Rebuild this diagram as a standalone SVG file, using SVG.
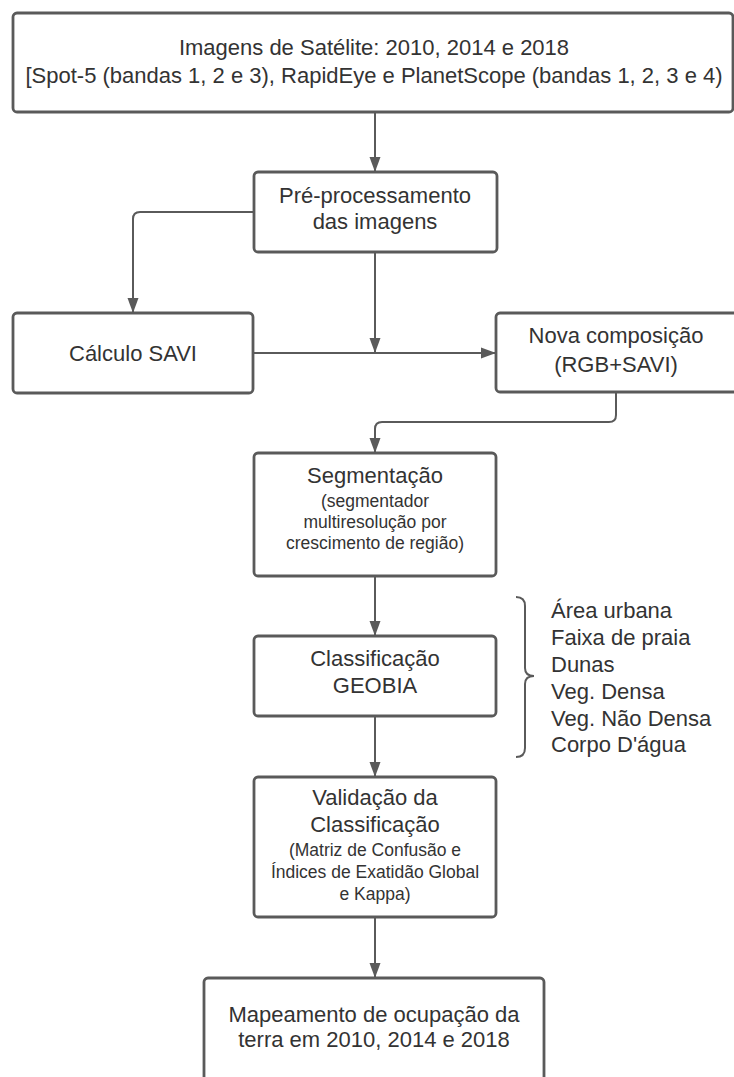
<svg xmlns="http://www.w3.org/2000/svg" width="734" height="1077" viewBox="0 0 734 1077">
<style>
.box{fill:#ffffff;stroke:#5a5a5a;stroke-width:2.8}
.t{font-family:"Liberation Sans",Arial,sans-serif;font-size:22px;fill:#333333;text-anchor:middle}
.s{font-family:"Liberation Sans",Arial,sans-serif;font-size:17.5px;fill:#333333;text-anchor:middle}
.l{font-family:"Liberation Sans",Arial,sans-serif;font-size:22px;fill:#333333}
.c{fill:none;stroke:#5a5a5a;stroke-width:2}
</style>
<defs>
<marker id="ah" viewBox="0 0 15 12" refX="14" refY="6" markerWidth="15" markerHeight="12" markerUnits="userSpaceOnUse" orient="auto">
<path d="M0,0.5 L15,6 L0,11.5 Z" fill="#5a5a5a"/>
</marker>
</defs>
<rect width="734" height="1077" fill="#ffffff"/>
<g id="connectors">
<path class="c" d="M375,112 L375,171" marker-end="url(#ah)"/>
<path class="c" d="M254,212 L140,212 Q133,212 133,219 L133,312" marker-end="url(#ah)"/>
<path class="c" d="M375,252 L375,352" marker-end="url(#ah)"/>
<path class="c" d="M253,353 L495,353" marker-end="url(#ah)"/>
<path class="c" d="M616,392 L616,415 Q616,422 609,422 L382,422 Q375,422 375,429 L375,452" marker-end="url(#ah)"/>
<path class="c" d="M375,576 L375,635" marker-end="url(#ah)"/>
<path class="c" d="M375,716 L375,776" marker-end="url(#ah)"/>
<path class="c" d="M375,917 L375,977" marker-end="url(#ah)"/>
<path class="c" d="M516,597 Q525,597 525,606 L525,668 Q525,676 534,676 Q525,676 525,684 L525,748 Q525,757 516,757"/>
</g>
<g id="n1">
<rect class="box" x="13" y="13" width="720" height="99" rx="4"/>
<text class="t" x="374" y="55">Imagens de Satélite: 2010, 2014 e 2018</text>
<text class="t" x="374" y="83">[Spot-5 (bandas 1, 2 e 3), RapidEye e PlanetScope (bandas 1, 2, 3 e 4)</text>
</g>
<g id="n2">
<rect class="box" x="254" y="172" width="243" height="80" rx="4"/>
<text class="t" x="375" y="203">Pré-processamento</text>
<text class="t" x="375" y="229">das imagens</text>
</g>
<g id="n3">
<rect class="box" x="13" y="313" width="240" height="80" rx="4"/>
<text class="t" x="133" y="361">Cálculo SAVI</text>
</g>
<g id="n4">
<rect class="box" x="496" y="313" width="245" height="79" rx="4"/>
<text class="t" x="616" y="343">Nova composição</text>
<text class="t" x="616" y="372">(RGB+SAVI)</text>
</g>
<g id="n5">
<rect class="box" x="254" y="453" width="242" height="123" rx="4"/>
<text class="t" x="375" y="483">Segmentação</text>
<text class="s" x="375" y="507">(segmentador</text>
<text class="s" x="375" y="528">multiresolução por</text>
<text class="s" x="375" y="549">crescimento de região)</text>
</g>
<g id="n6">
<rect class="box" x="254" y="636" width="242" height="80" rx="4"/>
<text class="t" x="375" y="666">Classificação</text>
<text class="t" x="375" y="693">GEOBIA</text>
</g>
<g id="classes">
<text class="l" x="551" y="618">Área urbana</text>
<text class="l" x="551" y="645">Faixa de praia</text>
<text class="l" x="551" y="672">Dunas</text>
<text class="l" x="551" y="699">Veg. Densa</text>
<text class="l" x="551" y="726">Veg. Não Densa</text>
<text class="l" x="551" y="752">Corpo D'água</text>
</g>
<g id="n7">
<rect class="box" x="254" y="777" width="242" height="140" rx="4"/>
<text class="t" x="375" y="805">Validação da</text>
<text class="t" x="375" y="832">Classificação</text>
<text class="s" x="375" y="856">(Matriz de Confusão e</text>
<text class="s" x="375" y="878">Índices de Exatidão Global</text>
<text class="s" x="375" y="900">e Kappa)</text>
</g>
<g id="n8">
<rect class="box" x="204" y="978" width="340" height="120" rx="4"/>
<text class="t" x="374" y="1022">Mapeamento de ocupação da</text>
<text class="t" x="374" y="1047">terra em 2010, 2014 e 2018</text>
</g>
</svg>
